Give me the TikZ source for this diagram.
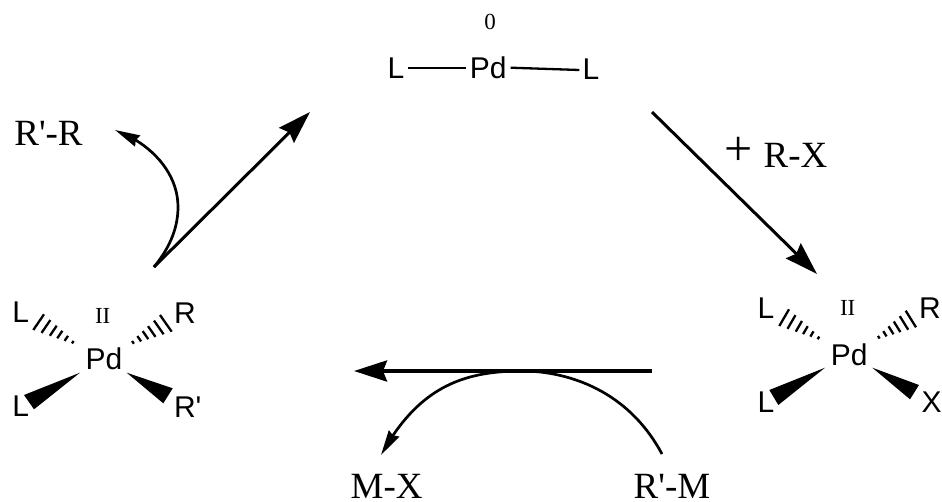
\documentclass[tikz,border=0pt]{standalone}
\usepackage{fontspec}
\newfontfamily\timesf{Liberation Serif}
\newfontfamily\arialf{Liberation Sans}
\usetikzlibrary{arrows.meta,bending,calc}
\tikzset{
  x=1pt,y=-1pt,
  atom/.style={inner sep=0pt,font=\arialf\fontsize{30}{32}\selectfont},
  serif/.style={inner sep=0pt,font=\timesf\fontsize{37}{40}\selectfont},
  ox/.style={inner sep=0pt,font=\timesf\fontsize{23}{25}\selectfont},
  main/.style={line width=3pt,-{Stealth[length=33pt,width=21pt,inset=4pt]}},
  mainh/.style={main,line width=3.8pt},
  curved/.style={line width=2.7pt,-{Stealth[length=25pt,width=12pt,inset=2pt,flex]}},
  bond/.style={line width=2.3pt},
  wedge/.style={fill=black,draw=none},
}
\newcommand{\hashbond}[3]{%
  \foreach \t in {0,0.16,0.32,0.48,0.64,0.82,1}{%
    \draw[line width=2.3pt]
      ($(#1)!\t!(#2)$) -- ($(#1)!\t!(#3)$);
  }%
}
\begin{document}
\begin{tikzpicture}
\useasboundingbox (0,0) rectangle (942,501);
% top complex
\node[atom] (topL) at (396,67.7) {L};
\node[atom] (topPd) at (488.3,67.7) {Pd};
\node[atom] (topR) at (591,69.5) {L};
\node[ox] (zero) at (490,22) {0};
\coordinate (b1a) at (408.3,67.7); \coordinate (b1b) at (465.7,67.7);
\coordinate (b2a) at (510.7,67.7); \coordinate (b2b) at (579.3,70);
\draw[bond] (b1a) -- (b1b);
\draw[bond] (b2a) -- (b2b);
% left complex
\node[atom] (lPd) at (104,359) {Pd};
\node[atom] (lL1) at (20.7,312) {L};
\node[atom] (lR) at (185,313) {R};
\node[atom] (lL2) at (20.7,406) {L};
\node[atom] (lRp) at (187.7,406.7) {R'};
\node[ox] (lII) at (102.7,316) {II};
\coordinate (lh1) at (79.3,346); \coordinate (lh1a) at (33.3,330); \coordinate (lh1b) at (44,314.3);
\coordinate (lh2) at (126.7,346); \coordinate (lh2a) at (171.7,331.7); \coordinate (lh2b) at (160,315);
\hashbond{lh1}{lh1a}{lh1b}
\hashbond{lh2}{lh2a}{lh2b}
\fill[wedge] (80,372.7) -- (24,395) -- (34,409.3) -- cycle;
\fill[wedge] (126.7,372.7) -- (172.7,388.3) -- (163.3,403.3) -- cycle;
% right complex
\node[atom] (rPd) at (849.3,355) {Pd};
\node[atom] (rL1) at (766,307.7) {L};
\node[atom] (rR) at (930,307.7) {R};
\node[atom] (rL2) at (766,401.7) {L};
\node[atom] (rX) at (931.7,401.7) {X};
\node[ox] (rII) at (847.7,308.3) {II};
\coordinate (rh1) at (825,341.7); \coordinate (rh1a) at (779.3,326); \coordinate (rh1b) at (789,309.3);
\coordinate (rh2) at (872.7,340.7); \coordinate (rh2a) at (916,327.3); \coordinate (rh2b) at (905.7,310.7);
\hashbond{rh1}{rh1a}{rh1b}
\hashbond{rh2}{rh2a}{rh2b}
\fill[wedge] (825,367.7) -- (769.3,390) -- (778.3,405) -- cycle;
\fill[wedge] (872.3,367.7) -- (919,385) -- (910,399.3) -- cycle;
% labels
\node[serif] (rpr) at (48.5,133) {R'-R};
\node[inner sep=0pt,font=\timesf\fontsize{50}{52}\selectfont] (plus) at (739,151) {+};
\node[serif] (rx) at (795.5,155.5) {R-X};
\node[serif] (mx) at (386.7,486.5) {M-X};
\node[serif] (rpm) at (672,486.5) {R'-M};
% main arrows
\coordinate (a1s) at (652,112); \coordinate (a1e) at (817,274);
\coordinate (a2s) at (652,371); \coordinate (a2e) at (354,371);
\coordinate (a3s) at (154,267); \coordinate (a3e) at (310,112);
\draw[main] (a1s) -- (a1e);
\draw[mainh] (a2s) -- (a2e);
\draw[main] (a3s) -- (a3e);
% curved arrows
\coordinate (c1s) at (662,454); \coordinate (c1e) at (381,455);
\draw[curved] (c1s) .. controls (625,385) and (560,371) .. (522,371)
   .. controls (462,371) and (418,388) .. (c1e);
\coordinate (c2s) at (154,267); \coordinate (c2e) at (115,130);
\draw[curved] (c2s) .. controls (172,245) and (178,225) .. (178,207)
   .. controls (178,172) and (150,143) .. (c2e);
\end{tikzpicture}
\end{document}
